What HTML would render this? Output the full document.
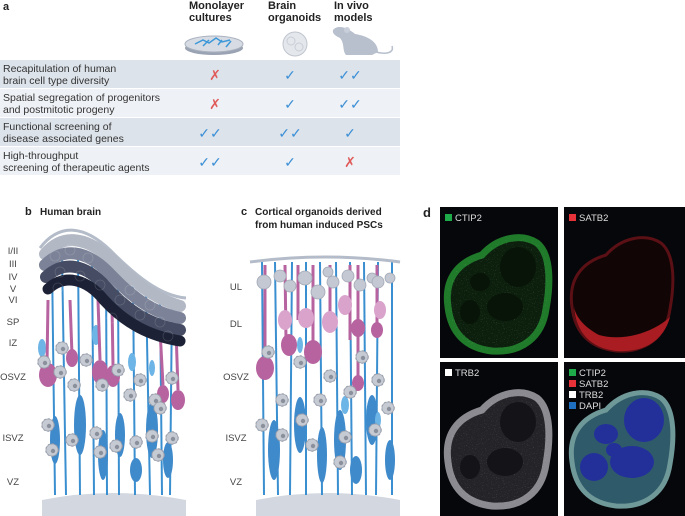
<!DOCTYPE html>
<html><head><meta charset="utf-8"><style>
html,body{margin:0;padding:0;background:#fff;}
svg{display:block;font-family:"Liberation Sans",sans-serif;}
</style></head><body>
<svg width="685" height="516" viewBox="0 0 685 516" xmlns="http://www.w3.org/2000/svg">
<defs>
<path id="blob" d="M8,100 C4,72 18,55 42,48 C58,30 82,26 97,36 C112,48 110,80 106,102 C102,130 82,146 52,144 C26,141 11,126 8,100 Z"/>
<filter id="nz" x="0" y="0" width="100%" height="100%"><feTurbulence type="fractalNoise" baseFrequency="0.9" numOctaves="1" seed="3"/><feColorMatrix type="matrix" values="0 0 0 0 1  0 0 0 0 1  0 0 0 0 1  0 0 0 -3 1.2"/><feComposite in2="SourceGraphic" operator="in"/></filter>
<g id="spk"><circle r="6" fill="#c3c7d0" stroke="#8f95a3" stroke-width="1.5" stroke-dasharray="2 2"/><circle r="6" fill="#c6cad3" stroke="#9aa0ad" stroke-width="0.8"/><circle cx="1" cy="1" r="2.2" fill="#8a909c"/></g>
</defs>

<!-- PANEL A -->
<text x="3" y="10" font-size="11" font-weight="bold" fill="#222">a</text>
<g font-size="11" font-weight="bold" fill="#222">
<text x="189" y="9">Monolayer</text><text x="189" y="21">cultures</text>
<text x="268" y="9">Brain</text><text x="268" y="21">organoids</text>
<text x="334" y="9">In vivo</text><text x="334" y="21">models</text>
</g>
<ellipse cx="214" cy="48" rx="29" ry="7" fill="#9aa3b3"/>
<ellipse cx="214" cy="44" rx="29" ry="8" fill="#d7dce4" stroke="#aab2bf"/>
<path d="M195,44 l8,-4 l6,3 l7,-5 l6,4 l8,-2 M203,46 l6,-6 M218,45 l4,-5 M226,47 l5,-6" stroke="#3d98d8" stroke-width="1.5" fill="none"/>
<circle cx="295" cy="44" r="12" fill="#e4e7ec" stroke="#c0c5ce"/>
<circle cx="291" cy="41" r="4" fill="none" stroke="#c9ced6"/><circle cx="299" cy="47" r="4" fill="none" stroke="#c9ced6"/>
<path d="M333,30 C338,24 348,28 355,34 C368,36 378,42 378,52 L372,55 L346,55 C342,50 345,44 340,38 C336,36 332,34 333,30 Z" fill="#b8c0ce"/>
<path d="M376,52 C388,55 394,52 392,46" stroke="#b8c0ce" stroke-width="1.5" fill="none"/>
<circle cx="347" cy="30" r="3" fill="#c9cfda"/>

<rect x="0" y="60" width="400" height="28" fill="#dde3ea"/>
<rect x="0" y="89" width="400" height="28" fill="#eef1f5"/>
<rect x="0" y="118" width="400" height="28" fill="#dde3ea"/>
<rect x="0" y="147" width="400" height="28" fill="#eef1f5"/>
<g font-size="10.5" fill="#333">
<text x="3" y="72">Recapitulation of human</text><text x="3" y="84">brain cell type diversity</text>
<text x="3" y="101">Spatial segregation of progenitors</text><text x="3" y="113">and postmitotic progeny</text>
<text x="3" y="130">Functional screening of</text><text x="3" y="142">disease associated genes</text>
<text x="3" y="159">High-throughput</text><text x="3" y="171">screening of therapeutic agents</text>
</g>
<g font-size="14" text-anchor="middle">
<text x="215" y="80" fill="#e05a5a">✗</text><text x="290" y="80" fill="#3b8fd6">✓</text><text x="350" y="80" fill="#3b8fd6">✓✓</text>
<text x="215" y="109" fill="#e05a5a">✗</text><text x="290" y="109" fill="#3b8fd6">✓</text><text x="350" y="109" fill="#3b8fd6">✓✓</text>
<text x="210" y="138" fill="#3b8fd6">✓✓</text><text x="290" y="138" fill="#3b8fd6">✓✓</text><text x="350" y="138" fill="#3b8fd6">✓</text>
<text x="210" y="167" fill="#3b8fd6">✓✓</text><text x="290" y="167" fill="#3b8fd6">✓</text><text x="350" y="167" fill="#e05a5a">✗</text>
</g>

<!-- PANEL B -->
<text x="25" y="215" font-size="11" font-weight="bold" fill="#222">b</text>
<text x="40" y="215" font-size="10" font-weight="bold" fill="#222">Human brain</text>
<g font-size="9.5" fill="#444" text-anchor="middle">
<text x="13" y="254">I/II</text><text x="13" y="267">III</text><text x="13" y="280">IV</text><text x="13" y="292">V</text><text x="13" y="303">VI</text>
<text x="13" y="325">SP</text><text x="13" y="346">IZ</text><text x="13" y="380">OSVZ</text><text x="13" y="441">ISVZ</text><text x="13" y="485">VZ</text>
</g>
<path d="M42,516 L42,500 Q112,486 186,500 L186,516 Z" fill="#d3d8e0"/>
<g stroke="#3a8fd0" stroke-width="2" fill="none">
<path d="M52,260 L55,495"/><path d="M62,255 L66,495"/><path d="M78,250 L80,495"/><path d="M92,255 L94,495"/>
<path d="M106,262 L107,495"/><path d="M118,270 L119,495"/><path d="M133,280 L135,495"/><path d="M146,288 L150,495"/>
<path d="M160,295 L162,495"/><path d="M172,300 L170,495"/>
</g>
<g fill="#3f8acb">
<ellipse cx="55" cy="440" rx="5" ry="24"/><ellipse cx="80" cy="425" rx="6" ry="30"/><ellipse cx="103" cy="455" rx="5" ry="25"/>
<ellipse cx="120" cy="435" rx="5" ry="22"/><ellipse cx="136" cy="470" rx="6" ry="12"/><ellipse cx="152" cy="430" rx="6" ry="28"/>
<ellipse cx="168" cy="460" rx="5" ry="18"/>
</g>
<g fill="#6db5e6"><ellipse cx="42" cy="348" rx="4" ry="9"/><ellipse cx="96" cy="335" rx="4" ry="10"/><ellipse cx="132" cy="362" rx="4" ry="9"/><ellipse cx="152" cy="368" rx="3" ry="8"/></g>
<g stroke="#b6639f" stroke-width="3" fill="none">
<path d="M48,300 L47,365"/><path d="M70,300 L72,355"/><path d="M98,300 L100,360"/><path d="M112,305 L113,365"/><path d="M160,330 L163,385"/><path d="M176,330 L178,390"/>
</g>
<g fill="#b6639f"><ellipse cx="48" cy="375" rx="9" ry="12"/><ellipse cx="72" cy="358" rx="6" ry="9"/><ellipse cx="100" cy="372" rx="8" ry="12"/><ellipse cx="113" cy="376" rx="7" ry="11"/><ellipse cx="163" cy="394" rx="6" ry="9"/><ellipse cx="178" cy="400" rx="7" ry="10"/></g>
<path d="M40,248 C60,222 85,226 110,250 C135,275 160,296 186,298" stroke="#b4bcc9" stroke-width="3" fill="none"/>
<g fill="none" stroke-linecap="round">
<path d="M45,254 C62,234 85,236 110,258 C132,280 152,298 180,306" stroke="#b3b8c5" stroke-width="12"/>
<path d="M45,265 C63,247 86,250 108,272 C130,295 150,312 180,318" stroke="#7c8398" stroke-width="12"/>
<path d="M46,277 C64,260 86,264 106,287 C128,311 150,325 180,330" stroke="#454c63" stroke-width="12"/>
<path d="M48,289 C64,274 86,278 104,300 C126,324 150,336 180,341" stroke="#1c2135" stroke-width="11"/>
</g>
<g fill="none" stroke="#ffffff" stroke-opacity="0.15" stroke-width="0.8">
<circle cx="55" cy="256" r="5"/><circle cx="70" cy="250" r="5"/><circle cx="88" cy="258" r="5"/><circle cx="60" cy="272" r="5"/><circle cx="80" cy="276" r="5"/><circle cx="100" cy="285" r="5"/><circle cx="120" cy="300" r="5"/><circle cx="140" cy="315" r="5"/><circle cx="160" cy="322" r="5"/><circle cx="130" cy="290" r="5"/><circle cx="150" cy="305" r="5"/><circle cx="168" cy="336" r="5"/><circle cx="58" cy="288" r="5"/><circle cx="112" cy="318" r="5"/>
</g>
<use href="#spk" x="62" y="348"/><use href="#spk" x="44" y="362"/><use href="#spk" x="60" y="372"/><use href="#spk" x="74" y="385"/>
<use href="#spk" x="86" y="360"/><use href="#spk" x="102" y="385"/><use href="#spk" x="118" y="370"/><use href="#spk" x="130" y="395"/>
<use href="#spk" x="140" y="380"/><use href="#spk" x="155" y="400"/><use href="#spk" x="172" y="378"/><use href="#spk" x="160" y="408"/>
<use href="#spk" x="48" y="425"/><use href="#spk" x="72" y="440"/><use href="#spk" x="52" y="450"/><use href="#spk" x="96" y="433"/>
<use href="#spk" x="100" y="452"/><use href="#spk" x="116" y="446"/><use href="#spk" x="136" y="442"/><use href="#spk" x="152" y="436"/>
<use href="#spk" x="158" y="455"/><use href="#spk" x="172" y="438"/>

<!-- PANEL C -->
<text x="241" y="215" font-size="11" font-weight="bold" fill="#222">c</text>
<text x="255" y="215" font-size="10" font-weight="bold" fill="#222">Cortical organoids derived</text>
<text x="255" y="228" font-size="10" font-weight="bold" fill="#222">from human induced PSCs</text>
<g font-size="9.5" fill="#444" text-anchor="middle">
<text x="236" y="290">UL</text><text x="236" y="327">DL</text><text x="236" y="380">OSVZ</text><text x="236" y="441">ISVZ</text><text x="236" y="485">VZ</text>
</g>
<path d="M256,516 L256,500 Q328,486 400,500 L400,516 Z" fill="#d3d8e0"/>
<g stroke="#3a8fd0" stroke-width="2" fill="none">
<path d="M262,262 L264,495"/><path d="M275,262 L278,495"/><path d="M292,262 L290,495"/><path d="M306,262 L306,495"/>
<path d="M320,262 L322,495"/><path d="M336,262 L338,495"/><path d="M350,262 L352,495"/><path d="M364,262 L366,495"/>
<path d="M378,262 L376,495"/><path d="M392,262 L392,495"/>
</g>
<g fill="#3f8acb">
<ellipse cx="274" cy="450" rx="6" ry="30"/><ellipse cx="300" cy="425" rx="6" ry="28"/><ellipse cx="322" cy="455" rx="5" ry="28"/>
<ellipse cx="340" cy="440" rx="6" ry="30"/><ellipse cx="356" cy="470" rx="6" ry="14"/><ellipse cx="372" cy="420" rx="6" ry="25"/><ellipse cx="390" cy="460" rx="5" ry="20"/>
</g>
<g fill="#6db5e6"><ellipse cx="300" cy="345" rx="3" ry="8"/><ellipse cx="345" cy="405" rx="4" ry="9"/><ellipse cx="378" cy="420" rx="3" ry="8"/></g>
<g stroke="#b6639f" stroke-width="3" fill="none">
<path d="M265,265 L265,365"/><path d="M285,265 L286,340"/><path d="M298,265 L298,320"/><path d="M313,265 L313,350"/><path d="M330,265 L330,322"/><path d="M350,265 L350,340"/><path d="M358,265 L358,380"/><path d="M377,265 L377,328"/>
</g>
<g fill="#b6639f"><ellipse cx="265" cy="368" rx="9" ry="12"/><ellipse cx="289" cy="345" rx="8" ry="11"/><ellipse cx="313" cy="352" rx="9" ry="12"/><ellipse cx="358" cy="383" rx="6" ry="8"/><ellipse cx="358" cy="328" rx="7" ry="9"/><ellipse cx="377" cy="330" rx="6" ry="8"/></g>
<g fill="#d9a3cc"><ellipse cx="285" cy="320" rx="7" ry="10"/><ellipse cx="306" cy="318" rx="8" ry="10"/><ellipse cx="330" cy="322" rx="8" ry="11"/><ellipse cx="345" cy="305" rx="7" ry="10"/><ellipse cx="380" cy="310" rx="6" ry="9"/></g>
<path d="M250,262 Q325,252 400,262" stroke="#b4bcc9" stroke-width="3" fill="none"/>
<g fill="#c3c8d2" stroke="#a3a9b6" stroke-width="0.8">
<circle cx="264" cy="282" r="7"/><circle cx="280" cy="276" r="6"/><circle cx="290" cy="286" r="6"/><circle cx="305" cy="278" r="7"/>
<circle cx="318" cy="292" r="7"/><circle cx="328" cy="272" r="5"/><circle cx="333" cy="282" r="6"/><circle cx="348" cy="276" r="6"/>
<circle cx="360" cy="285" r="6"/><circle cx="372" cy="278" r="5"/><circle cx="378" cy="282" r="6"/><circle cx="390" cy="278" r="5"/>
</g>
<use href="#spk" x="268" y="352"/><use href="#spk" x="300" y="362"/><use href="#spk" x="330" y="376"/><use href="#spk" x="362" y="357"/>
<use href="#spk" x="378" y="380"/><use href="#spk" x="282" y="400"/><use href="#spk" x="320" y="400"/><use href="#spk" x="350" y="392"/>
<use href="#spk" x="388" y="408"/><use href="#spk" x="262" y="425"/><use href="#spk" x="302" y="420"/><use href="#spk" x="282" y="435"/>
<use href="#spk" x="312" y="445"/><use href="#spk" x="345" y="437"/><use href="#spk" x="375" y="430"/><use href="#spk" x="340" y="462"/>

<!-- PANEL D -->
<text x="423" y="217" font-size="13" font-weight="bold" fill="#222">d</text>
<rect x="440" y="207" width="245" height="309" fill="#fff"/>
<g transform="translate(440,207)">
<rect width="118" height="151" fill="#06070b"/>
<use href="#blob" fill="#0c1f0d" stroke="#1f7a2a" stroke-width="7"/>
<use href="#blob" fill="#1c6a25" filter="url(#nz)" opacity="0.25"/>
<ellipse cx="78" cy="60" rx="18" ry="20" fill="#081408"/><ellipse cx="40" cy="75" rx="10" ry="9" fill="#081408"/><ellipse cx="65" cy="100" rx="18" ry="14" fill="#081408"/><ellipse cx="30" cy="105" rx="10" ry="12" fill="#081408"/>
<rect x="5" y="7" width="7" height="7" fill="#1faa4a"/><text x="15" y="14" font-size="9.5" fill="#ddd">CTIP2</text>
</g>
<g transform="translate(564,207)">
<rect width="121" height="151" fill="#06070b"/>
<use href="#blob" fill="#120505" stroke="#5a1014" stroke-width="3"/>
<path d="M10,100 C12,125 26,141 52,144 C82,146 100,132 106,110 C90,125 60,135 35,128 C20,120 12,110 10,100 Z" fill="#a81c22"/>
<rect x="5" y="7" width="7" height="7" fill="#e8323a"/><text x="15" y="14" font-size="9.5" fill="#ddd">SATB2</text>
</g>
<g transform="translate(440,362)">
<rect width="118" height="154" fill="#06070b"/>
<use href="#blob" fill="#242428" stroke="#8a8a90" stroke-width="7"/>
<use href="#blob" fill="#aaaaaa" filter="url(#nz)" opacity="0.25"/>
<ellipse cx="78" cy="60" rx="18" ry="20" fill="#141418"/><ellipse cx="65" cy="100" rx="18" ry="14" fill="#141418"/><ellipse cx="30" cy="105" rx="10" ry="12" fill="#141418"/>
<rect x="5" y="7" width="7" height="7" fill="#fff"/><text x="15" y="14" font-size="9.5" fill="#ddd">TRB2</text>
</g>
<g transform="translate(564,362)">
<rect width="121" height="154" fill="#06070b"/>
<use href="#blob" fill="#2f5a6a" stroke="#6f9898" stroke-width="5"/>
<ellipse cx="80" cy="58" rx="20" ry="22" fill="#23309a"/><ellipse cx="42" cy="72" rx="12" ry="10" fill="#23309a"/><ellipse cx="68" cy="100" rx="22" ry="16" fill="#23309a"/><ellipse cx="30" cy="105" rx="14" ry="14" fill="#23309a"/><ellipse cx="50" cy="88" rx="8" ry="7" fill="#23309a"/>
<g font-size="9.5" fill="#ddd">
<rect x="5" y="7" width="7" height="7" fill="#1faa4a"/><text x="15" y="14">CTIP2</text>
<rect x="5" y="18" width="7" height="7" fill="#e8323a"/><text x="15" y="25">SATB2</text>
<rect x="5" y="29" width="7" height="7" fill="#fff"/><text x="15" y="36">TRB2</text>
<rect x="5" y="40" width="7" height="7" fill="#1f6fc0"/><text x="15" y="47">DAPI</text>
</g>
</g>
</svg>
</body></html>
